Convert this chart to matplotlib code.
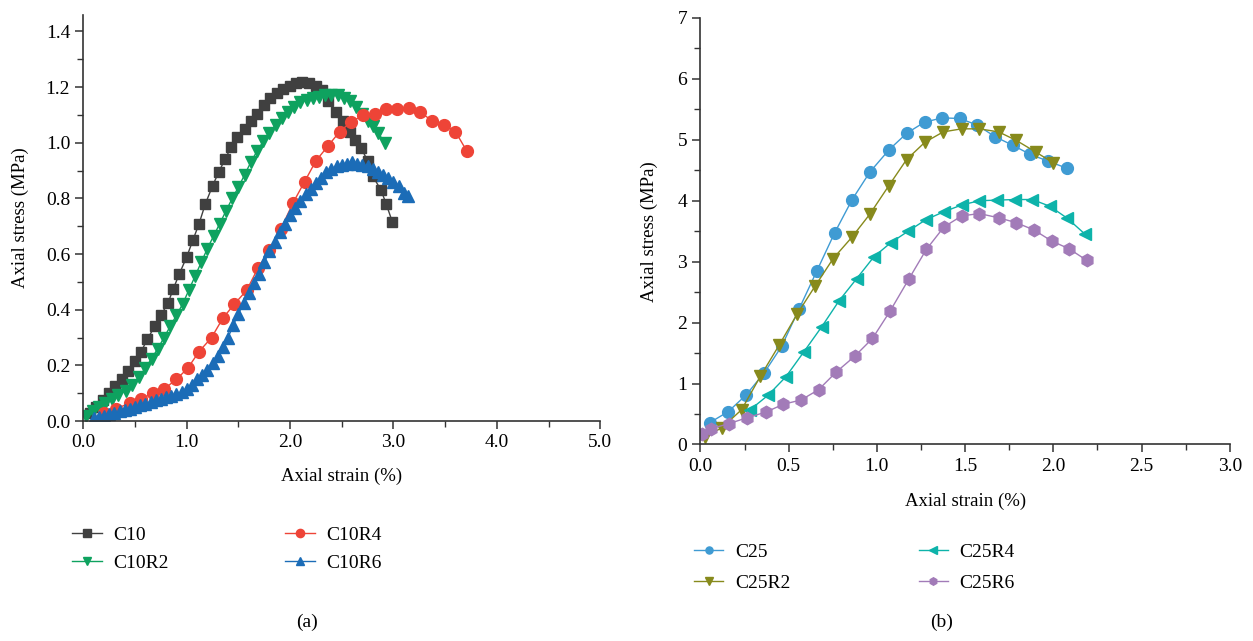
import numpy as np
import matplotlib
matplotlib.use("Agg")
import matplotlib.pyplot as plt
from matplotlib.ticker import MultipleLocator, FormatStrFormatter

plt.rcParams['font.family'] = ['Liberation Serif', 'DejaVu Serif']

#==================================
# panel (a) data
c10_x = [0.06, 0.12, 0.19, 0.25, 0.31, 0.37, 0.43, 0.50, 0.56, 0.62, 0.69, 0.75,
         0.82, 0.87, 0.93, 1.00, 1.06, 1.12, 1.18, 1.25, 1.31, 1.37, 1.43, 1.49,
         1.56, 1.62, 1.68, 1.75, 1.81, 1.87, 1.93, 2.00, 2.06, 2.12, 2.18, 2.25,
         2.31, 2.37, 2.44, 2.51, 2.58, 2.63, 2.69, 2.75, 2.80, 2.88, 2.93, 2.99]
c10_y = [0.03, 0.05, 0.075, 0.10, 0.125, 0.15, 0.18, 0.215, 0.25, 0.295, 0.34, 0.38,
         0.425, 0.475, 0.53, 0.59, 0.65, 0.71, 0.78, 0.845, 0.895, 0.94, 0.985, 1.02,
         1.05, 1.08, 1.105, 1.135, 1.16, 1.18, 1.195, 1.205, 1.215, 1.22, 1.215, 1.205,
         1.19, 1.15, 1.11, 1.08, 1.04, 1.01, 0.98, 0.935, 0.88, 0.83, 0.78, 0.715]

c10r2_x = [0.03, 0.09, 0.15, 0.21, 0.28, 0.34, 0.41, 0.47, 0.54, 0.60, 0.66, 0.72,
           0.78, 0.84, 0.90, 0.96, 1.02, 1.08, 1.14, 1.20, 1.26, 1.32, 1.38, 1.44,
           1.50, 1.56, 1.62, 1.68, 1.74, 1.80, 1.86, 1.92, 1.98, 2.04, 2.10, 2.16,
           2.22, 2.28, 2.34, 2.40, 2.46, 2.52, 2.58, 2.64, 2.70, 2.75, 2.80, 2.85, 2.92]
c10r2_y = [0.02, 0.035, 0.05, 0.065, 0.08, 0.095, 0.11, 0.13, 0.16, 0.19, 0.225, 0.26,
           0.30, 0.34, 0.38, 0.42, 0.47, 0.52, 0.57, 0.62, 0.665, 0.71, 0.755, 0.80,
           0.84, 0.885, 0.93, 0.97, 1.005, 1.035, 1.065, 1.09, 1.11, 1.13, 1.145, 1.155,
           1.16, 1.165, 1.17, 1.17, 1.17, 1.16, 1.15, 1.13, 1.105, 1.08, 1.06, 1.035, 1.0]

c10r4_x = [0.20, 0.32, 0.45, 0.56, 0.67, 0.78, 0.90, 1.01, 1.12, 1.24, 1.35, 1.46,
           1.58, 1.69, 1.80, 1.91, 2.03, 2.14, 2.25, 2.37, 2.48, 2.59, 2.71, 2.82,
           2.93, 3.03, 3.15, 3.26, 3.37, 3.49, 3.60, 3.71]
c10r4_y = [0.03, 0.045, 0.065, 0.08, 0.10, 0.115, 0.15, 0.19, 0.25, 0.30, 0.37, 0.42,
           0.47, 0.55, 0.615, 0.69, 0.785, 0.86, 0.935, 0.99, 1.04, 1.075, 1.10, 1.105,
           1.12, 1.12, 1.125, 1.11, 1.08, 1.065, 1.04, 0.97]

c10r6_x = [0.10, 0.15, 0.20, 0.25, 0.30, 0.35, 0.40, 0.45, 0.50, 0.55, 0.60, 0.65,
           0.70, 0.75, 0.80, 0.85, 0.90, 0.95, 1.00, 1.05, 1.10, 1.15, 1.20, 1.25,
           1.30, 1.35, 1.40, 1.45, 1.50, 1.55, 1.60, 1.65, 1.70, 1.75, 1.80, 1.85,
           1.90, 1.95, 2.00, 2.05, 2.10, 2.15, 2.20, 2.25, 2.30, 2.35, 2.40, 2.45,
           2.50, 2.55, 2.60, 2.65, 2.70, 2.75, 2.80, 2.85, 2.90, 2.95, 3.00, 3.05,
           3.10, 3.14]
c10r6_y = [0.01, 0.015, 0.02, 0.025, 0.03, 0.035, 0.04, 0.045, 0.05, 0.057, 0.063, 0.07,
           0.075, 0.08, 0.085, 0.09, 0.097, 0.105, 0.115, 0.13, 0.15, 0.165, 0.185, 0.21,
           0.235, 0.265, 0.30, 0.345, 0.385, 0.425, 0.46, 0.495, 0.53, 0.57, 0.61, 0.645,
           0.68, 0.71, 0.74, 0.765, 0.79, 0.815, 0.835, 0.855, 0.875, 0.895, 0.905, 0.915,
           0.92, 0.925, 0.93, 0.925, 0.92, 0.915, 0.905, 0.895, 0.885, 0.875, 0.86, 0.845,
           0.82, 0.81]

# panel (b) data
c25_x = [0.054, 0.158, 0.258, 0.36, 0.46, 0.56, 0.66, 0.76, 0.86, 0.96, 1.07, 1.17,
         1.27, 1.37, 1.47, 1.57, 1.67, 1.77, 1.87, 1.97, 2.08]
c25_y = [0.36, 0.54, 0.81, 1.17, 1.61, 2.23, 2.85, 3.47, 4.02, 4.47, 4.84, 5.11,
         5.29, 5.36, 5.35, 5.24, 5.05, 4.91, 4.76, 4.65, 4.53]

c25r2_x = [0.025, 0.12, 0.233, 0.34, 0.446, 0.548, 0.65, 0.752, 0.858, 0.96, 1.066,
           1.168, 1.272, 1.376, 1.48, 1.58, 1.69, 1.79, 1.90, 2.00]
c25r2_y = [0.13, 0.27, 0.57, 1.12, 1.63, 2.14, 2.60, 3.05, 3.40, 3.78, 4.24,
           4.675, 4.96, 5.13, 5.18, 5.18, 5.13, 4.99, 4.80, 4.62]

c25r4_x = [0.28, 0.384, 0.484, 0.586, 0.687, 0.786, 0.885, 0.983, 1.078, 1.177, 1.278,
           1.38, 1.48, 1.58, 1.68, 1.78, 1.88, 1.98, 2.08, 2.18]
c25r4_y = [0.565, 0.81, 1.11, 1.52, 1.93, 2.36, 2.72, 3.08, 3.31, 3.50, 3.69,
           3.82, 3.93, 4.0, 4.01, 4.02, 4.02, 3.91, 3.71, 3.45]

c25r6_x = [0.01, 0.06, 0.16, 0.265, 0.37, 0.47, 0.57, 0.67, 0.77, 0.875, 0.975, 1.075,
           1.18, 1.28, 1.38, 1.48, 1.58, 1.69, 1.79, 1.89, 1.99, 2.09, 2.19]
c25r6_y = [0.18, 0.26, 0.34, 0.44, 0.53, 0.66, 0.73, 0.90, 1.19, 1.45, 1.74, 2.19,
           2.71, 3.20, 3.57, 3.75, 3.79, 3.72, 3.64, 3.52, 3.34, 3.21, 3.02]

#==================================
def style_axes(ax, xpad, ypad):
  ax.spines['top'].set_visible(False)
  ax.spines['right'].set_visible(False)
  for s in ['left', 'bottom']:
    ax.spines[s].set_color('#333333')
    ax.spines[s].set_linewidth(1.2)
  ax.tick_params(which='both', direction='out', color='#333333', labelsize=14)
  ax.tick_params(which='major', length=6, width=1.1)
  ax.tick_params(which='minor', length=4, width=1.0)
  ax.set_xlabel('Axial strain (%)', fontsize=13.5, labelpad=xpad)
  ax.set_ylabel('Axial stress (MPa)', fontsize=13.5, labelpad=ypad)


def DrawFig():
  fig = plt.figure(figsize=(12.53, 6.41), dpi=100)
  ax1 = fig.add_axes([0.0665, 0.343, 0.4125, 0.634])
  ax2 = fig.add_axes([0.559, 0.3066, 0.4225, 0.6654])

  lw = 1.0
  ax1.plot(c10_x, c10_y, '-s', color='#404040', ms=7.5, lw=lw, label='C10')
  ax1.plot(c10r2_x, c10r2_y, '-v', color='#0ea25f', ms=8.5, lw=lw, label='C10R2')
  ax1.plot(c10r4_x, c10r4_y, '-o', color='#ee4437', ms=8.5, lw=lw, label='C10R4')
  ax1.plot(c10r6_x, c10r6_y, '-^', color='#1b6cb7', ms=8.5, lw=lw, label='C10R6')
  ax1.set_xlim(0, 5.0)
  ax1.set_ylim(0, 1.46)
  ax1.xaxis.set_major_locator(MultipleLocator(1.0))
  ax1.xaxis.set_minor_locator(MultipleLocator(0.5))
  ax1.yaxis.set_major_locator(MultipleLocator(0.2))
  ax1.yaxis.set_minor_locator(MultipleLocator(0.1))
  ax1.xaxis.set_major_formatter(FormatStrFormatter('%.1f'))
  ax1.yaxis.set_major_formatter(FormatStrFormatter('%.1f'))
  style_axes(ax1, 12, 12)
  ax1.legend(ncol=2, loc='upper left', bbox_to_anchor=(-0.055, -0.215), frameon=False,
             fontsize=14, handlelength=1.5, markerscale=0.7, columnspacing=6.0,
             labelspacing=0.55, handletextpad=0.6)

  ax2.plot(c25_x, c25_y, '-o', color='#3f9bd3', ms=8.5, lw=lw, label='C25')
  ax2.plot(c25r2_x, c25r2_y, '-v', color='#878a1c', ms=9, lw=lw, label='C25R2')
  ax2.plot(c25r4_x, c25r4_y, '-<', color='#0db3aa', ms=9, lw=lw, label='C25R4')
  ax2.plot(c25r6_x, c25r6_y, '-h', color='#a27bb8', ms=9, lw=lw, label='C25R6')
  ax2.set_xlim(0, 3.0)
  ax2.set_ylim(0, 7)
  ax2.xaxis.set_major_locator(MultipleLocator(0.5))
  ax2.xaxis.set_minor_locator(MultipleLocator(0.25))
  ax2.yaxis.set_major_locator(MultipleLocator(1))
  ax2.yaxis.set_minor_locator(MultipleLocator(0.5))
  ax2.xaxis.set_major_formatter(FormatStrFormatter('%.1f'))
  style_axes(ax2, 13, 14)
  ax2.legend(ncol=2, loc='upper left', bbox_to_anchor=(-0.045, -0.19), frameon=False,
             fontsize=14, handlelength=1.5, markerscale=0.6, columnspacing=6.6,
             labelspacing=0.72, handletextpad=0.6)

  fig.text(307/1253, 1 - 622/641, '(a)', ha='center', va='center', fontsize=14)
  fig.text(942/1253, 1 - 622/641, '(b)', ha='center', va='center', fontsize=14)

  plt.savefig('out.png', dpi=100)
  return

#==================================
def main():
  DrawFig()
  return

if __name__ == '__main__':
  main()
